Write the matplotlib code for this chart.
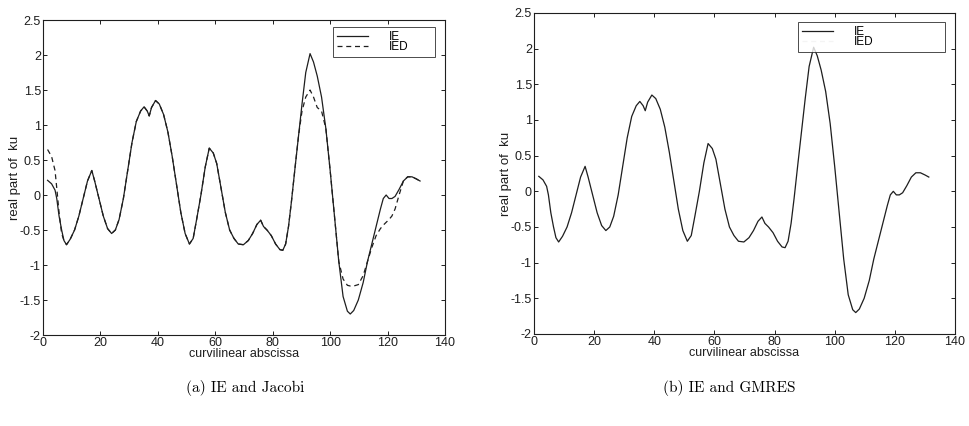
import matplotlib
matplotlib.use("Agg")
import matplotlib.pyplot as plt

# curvilinear abscissa
s = [1.6, 3.0, 4.2, 4.8, 5.6, 6.5, 7.3, 8.2, 9.5, 11.0, 12.5, 14.0, 15.5, 17.0, 18.0,
     19.5, 21.0, 22.5, 23.9, 25.2, 26.5, 28.0, 29.5, 31.0, 32.5, 34.0, 35.2, 36.3, 37.0,
     37.8, 39.2, 40.5, 42.0, 43.5, 45.0, 46.5, 48.0, 49.5, 51.0, 52.3, 53.5, 55.0, 56.5,
     57.9, 59.3, 60.5, 62.0, 63.5, 65.0, 66.5, 68.0, 69.8, 71.5, 73.0, 74.5, 75.8, 76.8,
     78.0, 79.5, 81.0, 82.5, 83.5, 84.5, 85.5, 86.5, 87.8, 89.0, 90.2, 91.5, 93.0, 94.2,
     95.5, 97.0, 98.5, 100.0, 101.5, 103.0, 104.5, 106.0, 107.0, 108.2, 109.8, 111.5,
     113.0, 114.5, 116.0, 117.5, 118.5, 119.5, 120.5, 121.5, 122.6, 124.0, 125.5, 127.0,
     128.5, 130.0, 131.3]

ie = [0.21, 0.16, 0.07, -0.05, -0.3, -0.5, -0.65, -0.71, -0.63, -0.5, -0.3, -0.05, 0.2,
      0.35, 0.2, -0.05, -0.3, -0.48, -0.55, -0.5, -0.35, -0.05, 0.35, 0.75, 1.05, 1.2,
      1.26, 1.2, 1.13, 1.25, 1.35, 1.3, 1.15, 0.9, 0.55, 0.15, -0.25, -0.55, -0.7, -0.62,
      -0.35, 0.0, 0.4, 0.67, 0.6, 0.45, 0.1, -0.25, -0.5, -0.62, -0.7, -0.71, -0.65,
      -0.55, -0.42, -0.36, -0.45, -0.5, -0.58, -0.7, -0.78, -0.79, -0.7, -0.45, -0.1,
      0.4, 0.85, 1.3, 1.75, 2.02, 1.9, 1.7, 1.4, 0.95, 0.35, -0.3, -0.95, -1.45, -1.66,
      -1.7, -1.65, -1.5, -1.25, -0.95, -0.7, -0.45, -0.2, -0.05, 0.0, -0.05, -0.05,
      -0.02, 0.08, 0.2, 0.26, 0.26, 0.23, 0.2]

ied_jacobi = [0.65, 0.55, 0.35, 0.1, -0.25, -0.55, -0.65, -0.71, -0.63, -0.5, -0.3, -0.05,
              0.2, 0.35, 0.2, -0.05, -0.3, -0.48, -0.55, -0.5, -0.35, -0.05, 0.35, 0.75,
              1.05, 1.2, 1.26, 1.2, 1.13, 1.25, 1.35, 1.3, 1.15, 0.9, 0.55, 0.15, -0.25,
              -0.55, -0.7, -0.62, -0.35, 0.0, 0.4, 0.67, 0.6, 0.45, 0.1, -0.25, -0.5,
              -0.62, -0.7, -0.71, -0.65, -0.55, -0.42, -0.36, -0.45, -0.5, -0.58, -0.7,
              -0.78, -0.79, -0.7, -0.45, -0.1, 0.4, 0.85, 1.2, 1.4, 1.5, 1.4, 1.25, 1.2,
              0.95, 0.35, -0.3, -0.95, -1.2, -1.29, -1.3, -1.3, -1.28, -1.15, -0.95, -0.75,
              -0.58, -0.48, -0.43, -0.39, -0.35, -0.3, -0.2, 0.0, 0.2, 0.26, 0.26, 0.23, 0.2]

ied_gmres = [0.21, 0.16, 0.07, -0.05, -0.3, -0.5, -0.65, -0.71, -0.63, -0.5, -0.3, -0.05,
             0.2, 0.35, 0.2, -0.05, -0.3, -0.48, -0.55, -0.5, -0.35, -0.05, 0.35, 0.75,
             1.05, 1.2, 1.26, 1.2, 1.13, 1.25, 1.35, 1.3, 1.15, 0.9, 0.55, 0.15, -0.25,
             -0.55, -0.7, -0.62, -0.35, 0.0, 0.4, 0.67, 0.6, 0.45, 0.1, -0.25, -0.5,
             -0.62, -0.7, -0.71, -0.65, -0.55, -0.42, -0.36, -0.43, -0.5, -0.58, -0.7,
             -0.78, -0.79, -0.7, -0.45, -0.1, 0.4, 0.85, 1.3, 1.75, 2.0, 1.9, 1.7, 1.4,
             0.95, 0.35, -0.3, -0.95, -1.45, -1.66, -1.7, -1.65, -1.5, -1.25, -0.95, -0.7,
             -0.45, -0.2, -0.05, 0.0, -0.05, -0.05, -0.02, 0.08, 0.2, 0.26, 0.26, 0.23, 0.2]

xticks = [0, 20, 40, 60, 80, 100, 120, 140]
yticks = [-2, -1.5, -1, -0.5, 0, 0.5, 1, 1.5, 2, 2.5]
ylabels = ["-2", "-1.5", "-1", "-0.5", "0", "0.5", "1", "1.5", "2", "2.5"]

plt.rcParams['font.family'] = ['Liberation Sans', 'DejaVu Sans']
ink = '#1e1e1e'

fig = plt.figure(figsize=(9.7, 4.26), dpi=100)
ax1 = fig.add_axes([0.0443, 0.2136, 0.4145, 0.7394])
ax2 = fig.add_axes([0.5505, 0.216, 0.434, 0.7535])


def setup(ax, ied, ied_col, box):
    ax.plot(s, ie, color=ink, lw=0.9, label='IE', zorder=3)
    ax.plot(s, ied, color=ied_col, lw=0.9, ls=(0, (4, 3)), label='IED', zorder=2)
    ax.set_xlim(0, 140)
    ax.set_ylim(-2, 2.5)
    ax.set_xticks(xticks)
    ax.set_yticks(yticks)
    ax.set_yticklabels(ylabels)
    ax.tick_params(direction='in', top=True, right=True, length=3, width=0.7,
                   labelsize=9, pad=1.5, colors=ink)
    for sp in ax.spines.values():
        sp.set_linewidth(0.8)
        sp.set_color(ink)
    ax.set_xlabel('curvilinear abscissa', fontsize=9, labelpad=-1, color=ink)
    ax.set_ylabel('real part of  ku', fontsize=9.5, labelpad=-1, color=ink)
    leg = ax.legend(loc='upper right', bbox_to_anchor=box, mode='expand', fontsize=8.5,
                    frameon=True, fancybox=False, edgecolor=ink, handlelength=2.6,
                    handletextpad=1.8, borderpad=0.35, labelspacing=-0.15,
                    borderaxespad=0.0)
    leg.get_frame().set_linewidth(0.7)


setup(ax1, ied_jacobi, ink, (0.721, 0.80, 0.254, 0.178))
setup(ax2, ied_gmres, '#f4f4f4', (0.627, 0.80, 0.349, 0.172))

fig.text(0.253, 0.09, '(a) IE and Jacobi', ha='center', va='center',
         fontsize=11, family=['cmr10', 'DejaVu Serif'])
fig.text(0.752, 0.09, '(b) IE and GMRES', ha='center', va='center',
         fontsize=11, family=['cmr10', 'DejaVu Serif'])

fig.savefig('out.png', dpi=100)
